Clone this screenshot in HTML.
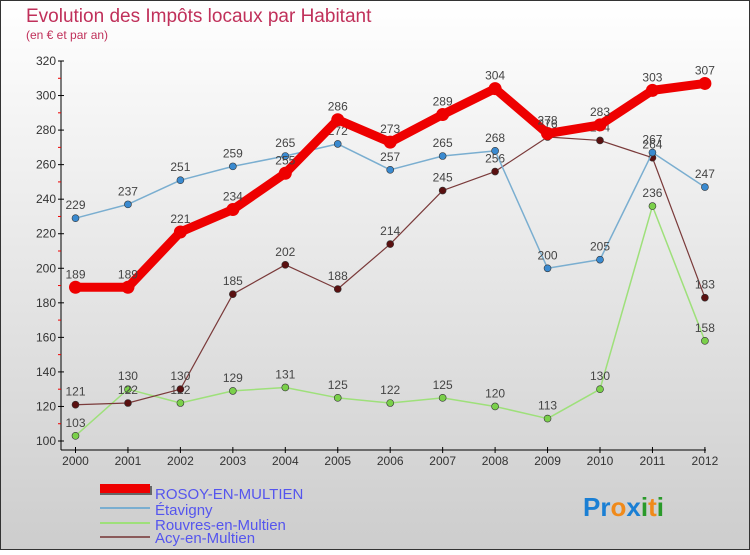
<!DOCTYPE html>
<html><head><meta charset="utf-8"><style>
body{margin:0}
#c{width:750px;height:550px;position:relative;font-family:"Liberation Sans",sans-serif;}
svg text{font-family:"Liberation Sans",sans-serif;}
</style></head><body>
<div id="c">
<svg id="s" width="750" height="550" xmlns="http://www.w3.org/2000/svg">
<defs><linearGradient id="bg" x1="0" y1="0" x2="0" y2="1"><stop offset="0" stop-color="#ffffff"/><stop offset="1" stop-color="#cdcdcd"/></linearGradient></defs>
<rect x="0.5" y="0.5" width="749" height="549" fill="url(#bg)" stroke="#333"/>
<text x="26" y="22" font-size="19" fill="#c0305a">Evolution des Impôts locaux par Habitant</text>
<text x="26" y="39" font-size="12" fill="#c0305a">(en € et par an)</text>
<g id="axes"></g><g id="series"></g>
<g>
<rect x="100" y="486" width="52" height="9" fill="#666"/><rect x="100" y="484" width="50" height="9" fill="#e00"/>
<text x="155" y="499" font-size="15" fill="#5555ee">ROSOY-EN-MULTIEN</text>
<rect x="100" y="507" width="50" height="2" fill="#7aaed0"/>
<text x="155" y="515" font-size="15" fill="#5555ee">Étavigny</text>
<rect x="100" y="522" width="50" height="2" fill="#9ee07a"/>
<text x="155" y="530" font-size="15" fill="#5555ee">Rouvres-en-Multien</text>
<rect x="100" y="536" width="50" height="2" fill="#8a5a5a"/>
<text x="155" y="543" font-size="15" fill="#5555ee">Acy-en-Multien</text>
</g>
<text x="583" y="516" font-size="26" font-weight="bold"><tspan fill="#1a7fd4">Pr</tspan><tspan fill="#f08a1a">o</tspan><tspan fill="#1a7fd4">x</tspan><tspan fill="#2a9a2a">i</tspan><tspan fill="#f08a1a">t</tspan><tspan fill="#2a9a2a">i</tspan></text>
</svg></div>
<script>
const years=["2000","2001","2002","2003","2004","2005","2006","2007","2008","2009","2010","2011","2012"];
const rosoy=[189,189,221,234,255,286,273,289,304,278,283,303,307];
const etavigny=[229,237,251,259,265,272,257,265,268,200,205,267,247];
const rouvres=[103,130,122,129,131,125,122,125,120,113,130,236,158];
const acy=[121,122,130,185,202,188,214,245,256,276,274,264,183];
const yTicks=[100,120,140,160,180,200,220,240,260,280,300,320];
const NS="http://www.w3.org/2000/svg";
const X=i=>75.5+i*52.45, Y=v=>61+(320-v)*1.7273;
function mk(t,a,p){const e=document.createElementNS(NS,t);for(const k in a)e.setAttribute(k,a[k]);p.appendChild(e);return e;}
const ax=document.getElementById('axes');
const yl=mk('line',{x1:61,y1:61,x2:61,y2:450,stroke:'#000'},ax);


const xl=mk('line',{x1:61,y1:450,x2:706,y2:450,stroke:'#000'},ax);


yTicks.forEach(v=>{
 mk('line',{x1:58,x2:64,y1:Y(v),y2:Y(v),stroke:'#000'},ax);
 if(v<320) mk('line',{x1:58,x2:61,y1:Y(v+10),y2:Y(v+10),stroke:'#e00'},ax);
 const t=mk('text',{x:56,y:Y(v)+4,'font-size':12,'text-anchor':'end',fill:'#333'},ax);t.textContent=v;
 
 
});
years.forEach((y,i)=>{
 mk('line',{x1:X(i),x2:X(i),y1:447,y2:453,stroke:'#000'},ax);
 const t=mk('text',{x:X(i),y:465,'font-size':12,'text-anchor':'middle',fill:'#333'},ax);t.textContent=y;
 
 
});
const sg=document.getElementById('series');
function series(d,col,w,r,name,dot){
 const p=mk('polyline',{points:d.map((v,i)=>X(i)+','+Y(v)).join(' '),fill:'none',stroke:col,'stroke-width':w,'stroke-linejoin':'round'},sg);
 
 
 d.forEach((v,i)=>{
  const c=mk('circle',{cx:X(i),cy:Y(v),r:r,fill:dot,stroke:'#333','stroke-width':w>4?0:0.6},sg);
  
  
  const t=mk('text',{x:X(i),y:Y(v)-9,'font-size':12,'text-anchor':'middle',fill:'#444'},sg);t.textContent=v;
  
  
 });
}
series(rouvres,'#9ee07a',1.5,3.5,'rouvres','#7ad04a');
series(acy,'#7a3a3a',1.2,3.5,'acy','#5a1010');
series(etavigny,'#7aaed0',1.5,3.5,'etavigny','#3a8ad0');
series(rosoy,'#ee0000',9,6.5,'rosoy','#ee0000');
</script>
</body></html>
